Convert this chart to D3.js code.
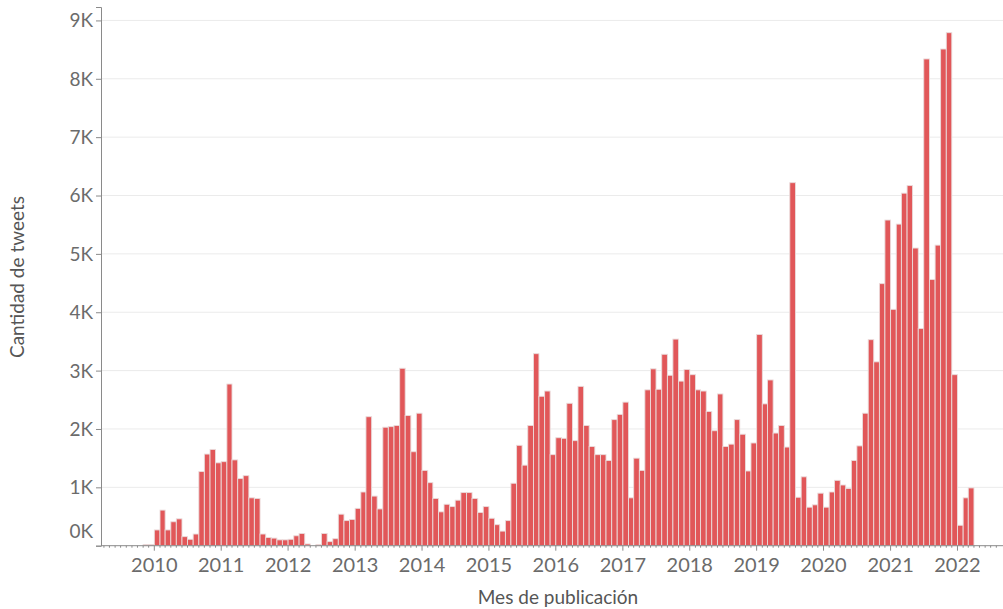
<!DOCTYPE html>
<meta charset="utf-8">
<html>
  <head>
    <script src="https://d3js.org/d3.v7.min.js"></script>
    <style>
      body { margin: 0; background: #fff; }
      text { font-family: Lato, "Open Sans", sans-serif; }
    </style>
  </head>
  <body>
    <div id="chart"></div>

    <script type="text/javascript">
      // monthly tweet counts, first bar is Nov 2009
      var firstMonth = "2009-11";
      var tweets = [
        20, 20,
        270, 610, 270, 410, 460, 155, 110, 200, 1270, 1570, 1650, 1420,      // 2010
        1440, 2770, 1470, 1150, 1200, 820, 810, 200, 140, 130, 100, 100,     // 2011
        110, 170, 210, 30, 0, 20, 210, 70, 120, 540, 430, 450,               // 2012
        640, 920, 2210, 850, 630, 2030, 2040, 2060, 3040, 2230, 1610, 2270,  // 2013
        1290, 1080, 810, 580, 710, 670, 780, 910, 910, 810, 570, 670,        // 2014
        470, 360, 250, 430, 1070, 1720, 1380, 2060, 3290, 2560, 2650, 1560,  // 2015
        1850, 1840, 2440, 1800, 2730, 2060, 1700, 1560, 1560, 1460, 2160, 2250, // 2016
        2460, 820, 1500, 1290, 2670, 3030, 2680, 3280, 2920, 3540, 2820, 3020,  // 2017
        2930, 2670, 2650, 2300, 1970, 2600, 1700, 1740, 2160, 1910, 1280, 1760, // 2018
        3620, 2430, 2840, 1930, 2060, 1690, 6220, 830, 1180, 660, 700, 900,     // 2019
        660, 920, 1120, 1040, 980, 1460, 1710, 2270, 3530, 3150, 4490, 5580,    // 2020
        4050, 5510, 6040, 6170, 5100, 3720, 8340, 4560, 5150, 8510, 8790, 2930, // 2021
        350, 820, 990                                                           // 2022
      ];
      var yTicks = [0, 1000, 2000, 3000, 4000, 5000, 6000, 7000, 8000, 9000];
      var yearTicks = ["2010", "2011", "2012", "2013", "2014", "2015", "2016",
                       "2017", "2018", "2019", "2020", "2021", "2022"];

      var width = 1003, height = 609;
      var parseMonth = d3.utcParse("%Y-%m");
      var start = parseMonth(firstMonth);

      var data = tweets.map(function(v, i) {
        var d = d3.utcMonth.offset(start, i);
        return { date: d, next: d3.utcMonth.offset(d, 1), count: v };
      });

      var svg = d3.select("#chart").append("svg")
          .attr("width", width)
          .attr("height", height);

      var x = d3.scaleUtc()
          .domain([new Date(Date.UTC(2009, 2, 16)), new Date(Date.UTC(2022, 8, 1))])
          .range([101, 1002]);

      var y = d3.scaleLinear()
          .domain([0, 9230])
          .range([545.7, 7]);

      // gridlines
      svg.append("g")
        .selectAll("line")
        .data(yTicks.filter(function(d) { return d > 0; }))
        .enter().append("line")
          .attr("x1", 101).attr("x2", width)
          .attr("y1", function(d) { return y(d); })
          .attr("y2", function(d) { return y(d); })
          .style("stroke", "#ebebeb")
          .style("stroke-width", "1px");

      // bars
      svg.append("g")
        .selectAll("rect")
        .data(data)
        .enter().append("rect")
          .attr("x", function(d) { return x(d.date); })
          .attr("width", function(d) { return x(d.next) - x(d.date); })
          .attr("y", function(d) { return y(d.count); })
          .attr("height", function(d) { return y(0) - y(d.count); })
          .style("fill", "#e15759")
          .style("stroke", "#eadcdc")
          .style("stroke-width", "0.9px");

      // y axis
      var yAxis = svg.append("g")
          .attr("transform", "translate(101,0)")
          .call(d3.axisLeft(y)
            .tickValues(yTicks)
            .tickSize(5)
            .tickPadding(3)
            .tickFormat(function(d) { return (d / 1000) + "K"; }));
      yAxis.select(".domain").style("stroke", "#8a8a8a");
      yAxis.selectAll(".tick line").style("stroke", "#8a8a8a");
      yAxis.selectAll(".tick text")
          .style("font-size", "19px")
          .style("fill", "#6b6b6b")
          .attr("dy", function(d) { return d === 0 ? "-0.45em" : "0.34em"; });

      // x axis: month ticks plus year ticks
      var xAxisG = svg.append("g").attr("transform", "translate(0,545.7)");
      xAxisG.append("line")
          .attr("x1", 101).attr("x2", width)
          .style("stroke", "#8a8a8a");

      var months = d3.utcMonth.range(x.domain()[0], x.domain()[1]);
      xAxisG.selectAll(".mtick")
        .data(months)
        .enter().append("line")
          .attr("class", "mtick")
          .attr("x1", function(d) { return x(d); })
          .attr("x2", function(d) { return x(d); })
          .attr("y2", function(d) { return d.getUTCMonth() === 0 ? 5 : 2; })
          .style("stroke", "#8a8a8a");

      xAxisG.selectAll(".ylabel")
        .data(yearTicks)
        .enter().append("text")
          .attr("class", "ylabel")
          .attr("x", function(d) { return x(d3.utcParse("%Y")(d)); })
          .attr("y", 26)
          .style("text-anchor", "middle")
          .style("font-size", "20px")
          .style("fill", "#6b6b6b")
          .text(function(d) { return d; });

      // axis titles
      svg.append("text")
          .attr("x", 558)
          .attr("y", 604)
          .style("text-anchor", "middle")
          .style("font-size", "19px")
          .style("fill", "#555")
          .text("Mes de publicación");

      svg.append("text")
          .attr("transform", "translate(24,277) rotate(-90)")
          .style("text-anchor", "middle")
          .style("font-size", "19px")
          .style("fill", "#555")
          .text("Cantidad de tweets");
    </script>
  </body>
</html>
